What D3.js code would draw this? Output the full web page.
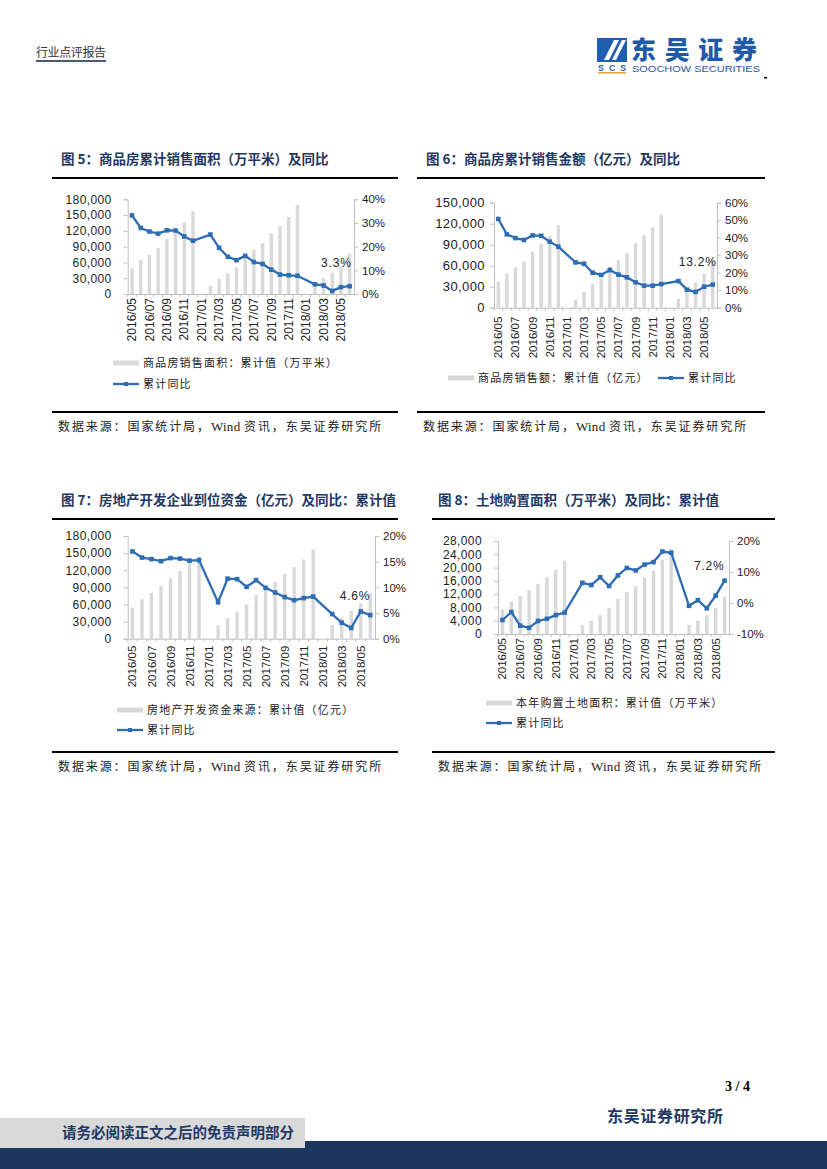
<!DOCTYPE html>
<html><head><meta charset="utf-8">
<script src="https://cdn.jsdelivr.net/npm/d3@7/dist/d3.min.js"></script>
<style>body{margin:0;background:#fff}svg{display:block}</style>
</head><body>
<svg id="page" width="827" height="1169"></svg>
<script>
// ---------- data ----------
const months = ["2016/05","2016/06","2016/07","2016/08","2016/09","2016/10","2016/11","2016/12",
  "2017/01","2017/02","2017/03","2017/04","2017/05","2017/06","2017/07","2017/08","2017/09","2017/10","2017/11","2017/12",
  "2018/01","2018/02","2018/03","2018/04","2018/05","2018/06"];
const tickLabels = ["2016/05","2016/07","2016/09","2016/11","2017/01","2017/03","2017/05","2017/07","2017/09","2017/11","2018/01","2018/03","2018/05"];

// Fig 5: sales area (10k m2) and YoY (%)
const salesArea = [48737,64302,74888,87450,105185,119124,135829,157349,
  null,15971,29035,39078,50735,74662,84497,96609,115489,129052,146131,169408,
  null,16652,30168,40389,52396,77143];
const salesAreaYoY = [33.2,27.9,26.4,25.5,26.9,26.8,24.3,22.5,
  null,25.1,19.5,15.7,14.3,16.1,13.5,12.7,10.3,8.2,7.9,7.7,
  null,4.1,3.6,1.3,2.9,3.3];

// Fig 6: sales value (100m yuan) and YoY (%)
const salesValue = [37100,49000,57600,66000,80300,91000,102400,117600,
  null,11500,23000,34000,41700,59200,68000,77600,92000,103000,115000,133300,
  null,12900,25000,36000,48600,66900];
const salesValueYoY = [50.7,41.9,39.8,38.7,41.3,41.1,37.7,34.9,
  null,25.9,25.1,20.0,18.7,21.5,18.9,17.3,14.5,12.6,12.6,13.5,
  null,15.2,10.3,9.0,12.0,13.2];

// Fig 7: funds in place (100m yuan) and YoY (%)
const funds = [54400,69500,80600,92300,105800,118600,132000,144200,
  null,23400,36000,47500,59700,76400,87600,99700,113300,125300,138800,156100,
  null,24000,37100,48800,61900,80000];
const fundsYoY = [17.0,15.8,15.5,15.1,15.7,15.6,15.2,15.3,
  null,7.1,11.7,11.6,10.1,11.4,9.9,9.0,8.1,7.5,7.9,8.2,
  null,4.8,3.1,2.1,5.3,4.6];

// Fig 8: land purchase area (10k m2) and YoY (%)
const landArea = [7400,9700,11500,13200,15100,17100,19300,22100,
  null,2700,4000,5700,7900,10500,12600,14400,17000,19100,22300,25500,
  null,2700,4000,5700,7900,11300];
const landAreaYoY = [-5.5,-2.9,-7.3,-8.0,-5.8,-5.1,-3.9,-3.1,
  null,6.5,5.8,8.3,5.5,8.9,11.3,10.5,12.4,13.2,16.6,16.2,
  null,-0.9,0.9,-1.7,2.4,7.2];

const leftTicks5 = [0,30000,60000,90000,120000,150000,180000];
const rightTicks5 = [0,10,20,30,40];
const leftTicks6 = [0,30000,60000,90000,120000,150000];
const rightTicks6 = [0,10,20,30,40,50,60];
const leftTicks7 = [0,30000,60000,90000,120000,150000,180000];
const rightTicks7 = [0,5,10,15,20];
const leftTicks8 = [0,4000,8000,12000,16000,20000,24000,28000];
const rightTicks8 = [-10,0,10,20];

// ---------- style ----------
const BLUE = "#2e6db4", BAR = "#d9d9d9", AXIS = "#bfbfbf", NAVY = "#1f3864";
const NUM = "'Liberation Sans', Arial, sans-serif";
const CJK = "'Noto Sans CJK SC', sans-serif";
const svg = d3.select("#page");

// ---------- header ----------
svg.append("text").attr("x",36).attr("y",57).attr("font-family",CJK).attr("font-size",12)
  .attr("fill","#333").attr("textLength",70).text("行业点评报告");
svg.append("rect").attr("x",36).attr("y",60).attr("width",70).attr("height",2).attr("fill","#4a5a78");
// logo
const lg = svg.append("g");
lg.append("rect").attr("x",597).attr("y",38).attr("width",30).attr("height",24).attr("fill","#1f5fae");
lg.append("path").attr("d","M604,60 L614,40 L619,40 L609,60 Z M612,60 L622,40 L626,40 L616,60 Z").attr("fill","#fff");
lg.append("text").attr("x",612).attr("y",70.5).attr("text-anchor","middle").attr("font-family",NUM)
  .attr("font-weight","bold").attr("font-size",8.5).attr("fill","#1f5fae").attr("textLength",28).text("SCS");
lg.append("rect").attr("x",598).attr("y",72).attr("width",28).attr("height",1.5).attr("fill","#f0a030");
lg.append("text").attr("x",631).attr("y",59).attr("font-family",CJK).attr("font-weight",900)
  .attr("font-size",25).attr("fill","#1e5aa8").attr("textLength",126).text("东吴证券");
lg.append("text").attr("x",632).attr("y",72).attr("font-family",NUM).attr("font-size",9)
  .attr("fill","#1e5aa8").attr("textLength",128).attr("lengthAdjust","spacingAndGlyphs").text("SOOCHOW SECURITIES");
svg.append("rect").attr("x",764).attr("y",77).attr("width",3).attr("height",1.5).attr("fill","#000");

// ---------- footer ----------
svg.append("text").attr("x",750).attr("y",1091).attr("text-anchor","end").attr("font-family","'Liberation Serif', serif")
  .attr("font-weight","bold").attr("font-size",14).attr("fill","#000").text("3 / 4");
svg.append("text").attr("x",607).attr("y",1122).attr("font-family",CJK).attr("font-weight","bold")
  .attr("font-size",16).attr("fill","#1f3864").attr("textLength",116).text("东吴证券研究所");
svg.append("rect").attr("x",0).attr("y",1141).attr("width",827).attr("height",28).attr("fill","#1b365d");
svg.append("rect").attr("x",0).attr("y",1118).attr("width",305).attr("height",30).attr("fill","#d9d9d9");
svg.append("text").attr("x",62).attr("y",1138).attr("font-family",CJK).attr("font-weight","bold")
  .attr("font-size",14.5).attr("fill","#1f3864").attr("textLength",232).text("请务必阅读正文之后的免责声明部分");

// ---------- chart drawer ----------
function drawChart(c) {
  const g = svg.append("g");
  // title
  g.append("text").attr("x",c.titleX).attr("y",c.titleY).attr("font-family",CJK).attr("font-weight","bold")
    .attr("font-size",13.5).attr("fill",NAVY).text(c.title);
  g.append("line").attr("x1",c.lineX1).attr("x2",c.lineX2).attr("y1",c.titleY+14).attr("y2",c.titleY+14)
    .attr("stroke","#000").attr("stroke-width",2);
  // scales
  const xs = d3.scaleBand().domain(months).range([c.left,c.right]);
  const yL = d3.scaleLinear().domain([c.leftTicks[0],c.leftTicks[c.leftTicks.length-1]]).range([c.bottom,c.top]);
  const yR = d3.scaleLinear().domain([c.rightTicks[0],c.rightTicks[c.rightTicks.length-1]]).range([c.bottom,c.top]);
  // bars
  g.append("g").selectAll("rect").data(months.map((m,i)=>({m,v:c.bars[i]})).filter(d=>d.v!=null))
    .join("rect").attr("x",d=>xs(d.m)+xs.bandwidth()/2-1.7).attr("width",3.4)
    .attr("y",d=>yL(d.v)).attr("height",d=>yL(0)-yL(d.v)).attr("fill",BAR);
  // axes
  const axL = d3.axisLeft(yL).tickValues(c.leftTicks).tickSize(4).tickPadding(c.lPad).tickFormat(d3.format(","));
  const gl = g.append("g").attr("transform",`translate(${c.left},0)`).call(axL);
  const axR = d3.axisRight(yR).tickValues(c.rightTicks).tickSize(4).tickPadding(4).tickFormat(d=>d+"%");
  const gr = g.append("g").attr("transform",`translate(${c.right},0)`).call(axR);
  const axB = d3.axisBottom(xs).tickValues(tickLabels).tickSize(0).tickPadding(0);
  const gb = g.append("g").attr("transform",`translate(0,${yL(0)})`).call(axB);
  [gl,gr,gb].forEach(a=>{
    a.select(".domain").attr("stroke",AXIS);
    a.selectAll(".tick line").attr("stroke",AXIS);
    a.selectAll("text").attr("font-family",NUM).attr("font-size",11.5).attr("fill","#222");
  });
  gl.selectAll("text").attr("font-size",c.lFont).attr("letter-spacing",0.4);
  gb.selectAll("text").attr("transform","rotate(-90)").attr("text-anchor","end")
    .attr("x",-c.xPad).attr("y",0).attr("dy","0.35em").attr("font-size",c.xFont);
  // x minor ticks at category boundaries
  g.append("g").selectAll("line").data(months).join("line")
    .attr("x1",d=>xs(d)).attr("x2",d=>xs(d)).attr("y1",yL(0)).attr("y2",yL(0)+3)
    .attr("stroke",AXIS);
  // line
  const pts = months.map((m,i)=>({m,v:c.yoy[i]})).filter(d=>d.v!=null);
  const cx = d=>xs(d.m)+xs.bandwidth()/2;
  g.append("path").datum(pts).attr("fill","none").attr("stroke",BLUE).attr("stroke-width",2.3)
    .attr("d",d3.line().x(cx).y(d=>yR(d.v)));
  g.append("g").selectAll("rect").data(pts).join("rect")
    .attr("x",d=>cx(d)-2.3).attr("y",d=>yR(d.v)-2.3).attr("width",4.6).attr("height",4.6).attr("fill",BLUE);
  // annotation
  const last = pts[pts.length-1];
  g.append("text").attr("x",cx(last)+c.annDx).attr("y",yR(last.v)-c.annDy).attr("text-anchor","end")
    .attr("font-family",NUM).attr("font-size",12).attr("letter-spacing",0.8).attr("fill","#222")
    .text(last.v.toFixed(1)+"%");
  // legend
  const L = c.legend;
  g.append("rect").attr("x",L.x1).attr("y",L.y1-2.5).attr("width",26).attr("height",5).attr("fill",BAR);
  g.append("text").attr("x",L.x1+30).attr("y",L.y1+4).attr("font-family",CJK).attr("font-size",11)
    .attr("letter-spacing",1.2).attr("fill","#222").text(c.barName);
  g.append("line").attr("x1",L.x2).attr("x2",L.x2+26).attr("y1",L.y2).attr("y2",L.y2)
    .attr("stroke",BLUE).attr("stroke-width",2.3);
  g.append("rect").attr("x",L.x2+13-2).attr("y",L.y2-2).attr("width",4).attr("height",4).attr("fill",BLUE);
  g.append("text").attr("x",L.x2+30).attr("y",L.y2+4).attr("font-family",CJK).attr("font-size",11)
    .attr("letter-spacing",1.2).attr("fill","#222").text("累计同比");
  // source
  g.append("line").attr("x1",c.lineX1).attr("x2",c.lineX2).attr("y1",c.srcY).attr("y2",c.srcY)
    .attr("stroke","#000").attr("stroke-width",2);
  const st = g.append("text").attr("x",c.lineX1+6).attr("y",c.srcY+19).attr("font-family",CJK)
    .attr("font-size",12).attr("letter-spacing",1.9).attr("fill","#222");
  st.append("tspan").text("数据来源：国家统计局，");
  st.append("tspan").attr("font-family","'Liberation Serif', serif").attr("font-size",13).attr("letter-spacing",0.3).text("Wind ");
  st.append("tspan").text("资讯，东吴证券研究所");
}

drawChart({title:"图 5：商品房累计销售面积（万平米）及同比", titleX:61, titleY:164, lineX1:52, lineX2:398,
  left:127.7, right:354, top:199.3, bottom:294, leftTicks:leftTicks5, rightTicks:rightTicks5,
  lPad:12, lFont:12, xPad:4, xFont:12,
  bars:salesArea, yoy:salesAreaYoY, annDx:2, annDy:19,
  barName:"商品房销售面积：累计值（万平米）", legend:{x1:113,y1:363,x2:113,y2:384}, srcY:412});
drawChart({title:"图 6：商品房累计销售金额（亿元）及同比", titleX:426, titleY:164, lineX1:417, lineX2:765,
  left:494, right:717, top:202.7, bottom:307.7, leftTicks:leftTicks6, rightTicks:rightTicks6,
  lPad:5, lFont:13, xPad:9, xFont:11.5,
  bars:salesValue, yoy:salesValueYoY, annDx:4, annDy:19,
  barName:"商品房销售额：累计值（亿元）", legend:{x1:448,y1:378,x2:658,y2:378}, srcY:412});
drawChart({title:"图 7：房地产开发企业到位资金（亿元）及同比：累计值", titleX:61, titleY:505, lineX1:52, lineX2:398,
  left:127.7, right:375, top:536, bottom:638.7, leftTicks:leftTicks7, rightTicks:rightTicks7,
  lPad:12, lFont:12, xPad:7, xFont:11.5,
  bars:funds, yoy:fundsYoY, annDx:0, annDy:15,
  barName:"房地产开发资金来源：累计值（亿元）", legend:{x1:117,y1:710,x2:117,y2:730}, srcY:752});
drawChart({title:"图 8：土地购置面积（万平米）及同比：累计值", titleX:438, titleY:505, lineX1:432, lineX2:775,
  left:498, right:729, top:541, bottom:634, leftTicks:leftTicks8, rightTicks:rightTicks8,
  lPad:12, lFont:12, xPad:4, xFont:11.5,
  bars:landArea, yoy:landAreaYoY, annDx:0, annDy:11,
  barName:"本年购置土地面积：累计值（万平米）", legend:{x1:486,y1:703,x2:486,y2:723}, srcY:752});
</script>
</body></html>
